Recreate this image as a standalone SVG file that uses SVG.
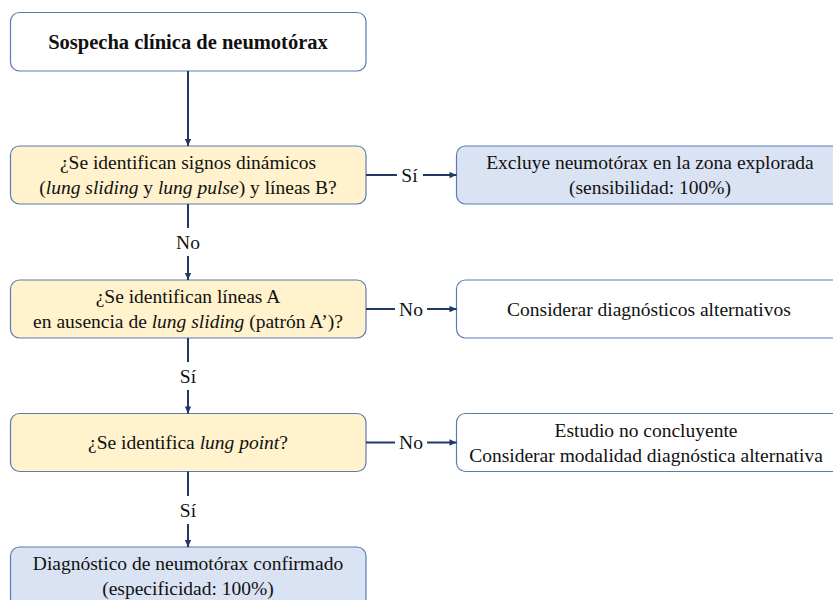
<svg xmlns="http://www.w3.org/2000/svg" width="833" height="600" viewBox="0 0 833 600">
<defs>
<marker id="ah" viewBox="0 0 10 10" refX="10" refY="5" markerWidth="8" markerHeight="7" orient="auto" markerUnits="userSpaceOnUse">
<path d="M0,0.5 L10,5 L0,9.5 z" fill="#1F3864"/>
</marker>
</defs>
<style>
.box{stroke:#5A7BB5;stroke-width:1.2}
.white{fill:#FFFFFF}
.yellow{fill:#FFF2CC}
.blue{fill:#DAE3F3}
text{font-family:"Liberation Serif","DejaVu Serif",serif;font-size:19.5px;fill:#111;text-anchor:middle}
.b{font-weight:bold;font-size:20.5px}
.c{stroke:#1F3864;stroke-width:2;fill:none}
.ca{stroke:#1F3864;stroke-width:2;fill:none;marker-end:url(#ah)}
</style>
<rect width="833" height="600" fill="#FFFFFF"/>
<g id="n1">
<rect class="box white" x="10.5" y="12.5" width="355.5" height="58.5" rx="9"/>
<text class="b" x="188" y="48.5">Sospecha clínica de neumotórax</text>
</g>
<g id="n2">
<rect class="box yellow" x="10.5" y="146" width="355.5" height="58" rx="9"/>
<text x="188" y="169">¿Se identifican signos dinámicos</text>
<text x="188" y="194">(<tspan font-style="italic">lung sliding</tspan> y <tspan font-style="italic">lung pulse</tspan>) y líneas B?</text>
</g>
<g id="n3">
<rect class="box blue" x="456.5" y="146" width="390" height="58" rx="9"/>
<text x="650" y="169">Excluye neumotórax en la zona explorada</text>
<text x="650" y="194">(sensibilidad: 100%)</text>
</g>
<g id="n4">
<rect class="box yellow" x="10.5" y="280" width="355.5" height="58" rx="9"/>
<text x="188" y="303">¿Se identifican líneas A</text>
<text x="188" y="328">en ausencia de <tspan font-style="italic">lung sliding</tspan> (patrón A’)?</text>
</g>
<g id="n5">
<rect class="box white" x="456.5" y="280" width="390" height="58" rx="9"/>
<text x="649" y="315.5">Considerar diagnósticos alternativos</text>
</g>
<g id="n6">
<rect class="box yellow" x="10.5" y="413.5" width="355.5" height="58" rx="9"/>
<text x="188" y="449">¿Se identifica <tspan font-style="italic">lung point</tspan>?</text>
</g>
<g id="n7">
<rect class="box white" x="456.5" y="413.5" width="390" height="58" rx="9"/>
<text x="646" y="437">Estudio no concluyente</text>
<text x="646" y="462">Considerar modalidad diagnóstica alternativa</text>
</g>
<g id="n8">
<rect class="box blue" x="10.5" y="547" width="355.5" height="60" rx="9"/>
<text x="188" y="570">Diagnóstico de neumotórax confirmado</text>
<text x="188" y="594.5">(especificidad: 100%)</text>
</g>
<g id="connectors">
<line class="ca" x1="188" y1="71" x2="188" y2="146"/>
<line class="c" x1="188" y1="204" x2="188" y2="228"/>
<text x="188" y="249">No</text>
<line class="ca" x1="188" y1="256" x2="188" y2="280"/>
<line class="c" x1="188" y1="338" x2="188" y2="362"/>
<text x="188" y="383">Sí</text>
<line class="ca" x1="188" y1="390" x2="188" y2="413.5"/>
<line class="c" x1="188" y1="471.5" x2="188" y2="496"/>
<text x="188" y="517">Sí</text>
<line class="ca" x1="188" y1="524" x2="188" y2="547"/>
<line class="c" x1="366" y1="175" x2="397" y2="175"/>
<text x="409.5" y="181.5">Sí</text>
<line class="ca" x1="423" y1="175" x2="456.5" y2="175"/>
<line class="c" x1="366" y1="309" x2="395" y2="309"/>
<text x="411" y="315.5">No</text>
<line class="ca" x1="427" y1="309" x2="456.5" y2="309"/>
<line class="c" x1="366" y1="442.5" x2="395" y2="442.5"/>
<text x="411" y="449">No</text>
<line class="ca" x1="427" y1="442.5" x2="456.5" y2="442.5"/>
</g>
</svg>
